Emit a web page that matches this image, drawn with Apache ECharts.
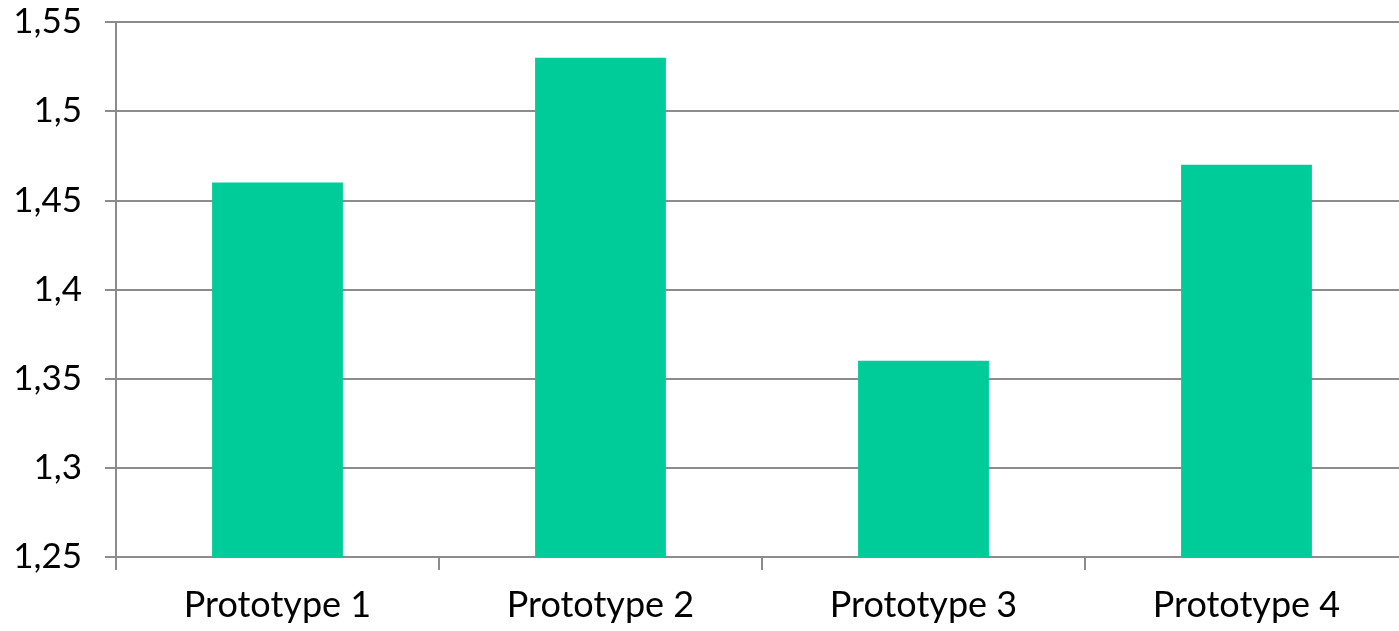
<!DOCTYPE html>
<html><head><meta charset="utf-8">
<script src="https://cdn.jsdelivr.net/npm/echarts@6/dist/echarts.min.js"></script>
<style>html,body{margin:0;padding:0;background:#fff}#c{width:1399px;height:631px}</style>
</head><body><div id="c"></div>
<script>
const categories = ['Prototype 1', 'Prototype 2', 'Prototype 3', 'Prototype 4'];
const values = [1.46, 1.53, 1.36, 1.47];
const yMin = 1.25, yMax = 1.55, yStep = 0.05;

const chart = echarts.init(document.getElementById('c'), null, {renderer: 'canvas'});
const font = 'Lato, "Open Sans", sans-serif';
chart.setOption({
  animation: false,
  grid: {left: 116, width: 1292, top: 22, height: 535, containLabel: false, outerBoundsMode: 'none'},
  xAxis: {
    type: 'category', data: categories,
    axisLine: {lineStyle: {color: '#8c8c8c', width: 2}},
    axisTick: {show: true, length: 13, lineStyle: {color: '#8c8c8c', width: 2}},
    axisLabel: {color: '#000', fontFamily: font, fontSize: 36, margin: 30}
  },
  yAxis: {
    type: 'value', min: yMin, max: yMax, interval: yStep,
    axisLine: {show: true, lineStyle: {color: '#8c8c8c', width: 2}},
    axisTick: {show: true, length: 11, lineStyle: {color: '#8c8c8c', width: 2}},
    splitLine: {lineStyle: {color: '#8c8c8c', width: 2}},
    axisLabel: {color: '#000', fontFamily: font, fontSize: 35, margin: 34,
      formatter: v => String(Math.round(v * 100) / 100).replace('.', ',')}
  },
  series: [{
    type: 'bar', data: values, barWidth: '40.5%',
    itemStyle: {color: '#00CC99'}
  }]
});
</script></body></html>
